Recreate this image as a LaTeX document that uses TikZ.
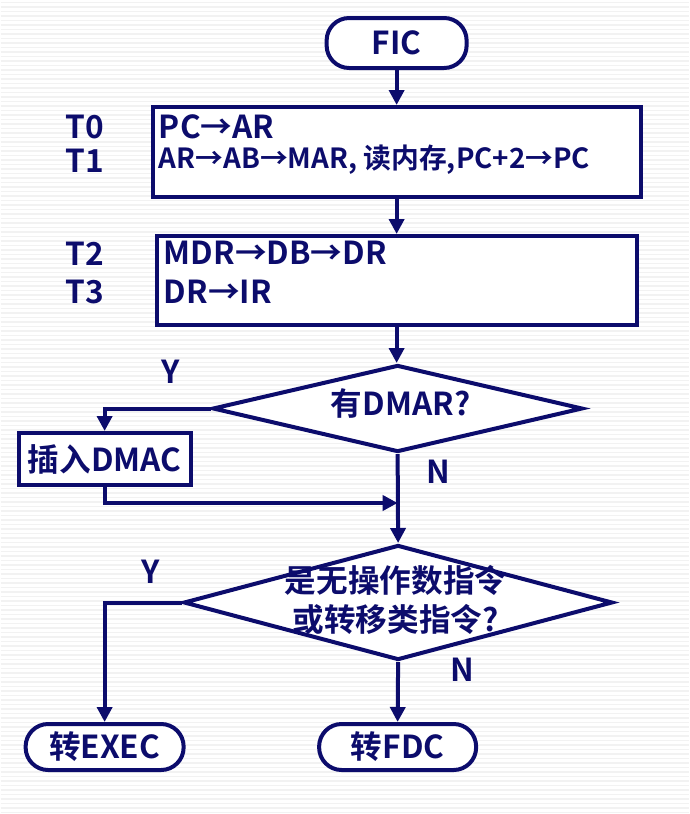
\documentclass[tikz,border=0pt]{standalone}
\usepackage{fontspec}
\setmainfont{Noto Sans CJK SC Bold}
\usetikzlibrary{positioning,shapes.geometric,arrows.meta,calc}
\definecolor{flowblue}{RGB}{12,12,108}
\tikzset{flow line/.style={draw=flowblue,line width=0.08cm},
  flow arrow/.style={flow line,-{Triangle[width=0.3cm,length=0.3cm]}},
  flow box/.style={flow line,fill=white,rectangle,minimum width=#1,minimum height=1.78cm,inner sep=0pt},
  flow term/.style={flow line,fill=white,rectangle,rounded corners=0.45cm,minimum width=#1,minimum height=1cm,font=\fontsize{18}{21}\selectfont,text=flowblue},
  flow dec/.style={flow line,fill=white,diamond,inner sep=0pt},
  flow txt/.style={text=flowblue,font=\fontsize{18}{21}\selectfont,inner sep=0pt,anchor=west}}

\begin{document}
\begin{tikzpicture}
\fill[white] (0,0) rectangle (13.76,-16.28);
\foreach \y in {0.05,0.14,...,16.28}
  \draw[black!5,line width=0.025cm] (0,-\y) -- (13.76,-\y);
\useasboundingbox (0,0) rectangle (13.76,-16.28);
% nodes
\node[flow term=2.8cm] (fic) at (7.92,-0.86) {FIC};
\node[flow box=9.76cm,minimum height=1.8cm] (fetch) at (7.92,-3.04) {};
\node[flow box=9.6cm] (decode) at (7.92,-5.61) {};
\node[flow dec,minimum width=7.4cm,minimum height=1.74cm] (dmar) at (7.94,-8.17) {};
\node[flow box=3.44cm,minimum height=1.04cm,font=\fontsize{18}{21}\selectfont,text=flowblue] (dmac) at (2.08,-9.18) {插入DMAC};
\node[flow dec,minimum width=8.58cm,minimum height=2.3cm] (jump) at (7.95,-12.05) {};
\node[flow term=3.16cm,minimum height=0.92cm] (exec) at (2.08,-14.94) {转EXEC};
\node[flow term=3.14cm,minimum height=0.92cm] (fdc) at (7.94,-14.94) {转FDC};
\coordinate (merge) at (7.94,-10.06);
% texts in the boxes
\node[flow txt] (pcar) at (3.16,-2.54) {PC→AR};
\node[flow txt,font=\fontsize{15.8}{18}\selectfont] (armar) at (3.16,-3.2) {AR→AB→MAR, 读内存,PC+2→PC};
\node[flow txt] (mdrdr) at (3.26,-5.06) {MDR→DB→DR};
\node[flow txt] (drir) at (3.26,-5.84) {DR→IR};
\node[flow txt,anchor=center] (dmartxt) at (8.0,-8.06) {有DMAR?};
\node[flow txt,anchor=center,align=center,font=\fontsize{18}{22.5}\selectfont] (jumptxt) at (7.9,-12.0) {是无操作数指令\\或转移类指令?};
% time steps
\node[flow txt] (t0) at (1.3,-2.54) {T0};
\node[flow txt] (t1) at (1.3,-3.22) {T1};
\node[flow txt] (t2) at (1.3,-5.08) {T2};
\node[flow txt] (t3) at (1.3,-5.84) {T3};
% yes / no
\node[flow txt,anchor=center] (y1) at (3.4,-7.44) {Y};
\node[flow txt,anchor=center] (n1) at (8.76,-9.44) {N};
\node[flow txt,anchor=center] (y2) at (3.0,-11.44) {Y};
\node[flow txt,anchor=center] (n2) at (9.24,-13.4) {N};
% connectors
\draw[flow arrow] (fic.south) -- (fic.south |- fetch.north);
\draw[flow arrow] (fetch.south) -- (fetch.south |- decode.north);
\draw[flow arrow] (decode.south) -- (decode.south |- dmar.north);
\draw[flow arrow] (dmar.west) -| (dmac.north);
\draw[flow arrow] (dmac.south) |- (merge);
\draw[flow arrow] (dmar.south) -- (jump.north);
\draw[flow arrow] (jump.west) -| (exec.north);
\draw[flow arrow] (jump.south) -- (fdc.north);
\end{tikzpicture}
\end{document}
